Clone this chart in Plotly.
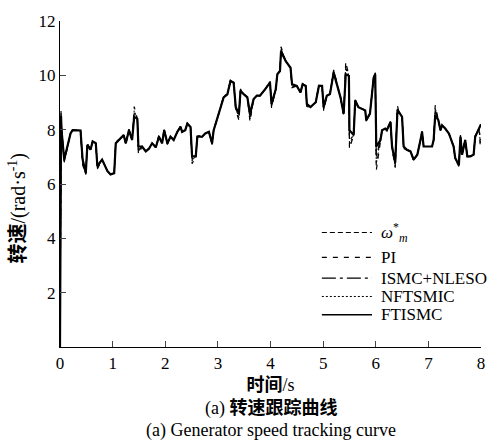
import plotly.graph_objects as go

# time axis (s)
t = [
    0.00, 0.01, 0.02, 0.03, 0.08, 0.20, 0.24, 0.39, 0.43, 0.49,
    0.52, 0.58, 0.62, 0.68, 0.71, 0.80, 0.90, 0.96, 1.03, 1.06,
    1.12, 1.21, 1.25, 1.31, 1.37, 1.41, 1.47, 1.49, 1.56, 1.63,
    1.69, 1.75, 1.82, 1.88, 1.94, 1.98, 2.04, 2.10, 2.16, 2.23,
    2.29, 2.32, 2.38, 2.42, 2.48, 2.51, 2.58, 2.61, 2.70, 2.76,
    2.83, 2.89, 2.92, 2.99, 3.05, 3.11, 3.18, 3.24, 3.30, 3.34,
    3.40, 3.43, 3.49, 3.56, 3.61, 3.68, 3.74, 3.80, 3.90, 3.99,
    4.02, 4.10, 4.13, 4.18, 4.20, 4.29, 4.38, 4.41, 4.50, 4.57,
    4.61, 4.67, 4.69, 4.76, 4.86, 4.92, 4.98, 5.01, 5.07, 5.13,
    5.20, 5.33, 5.39, 5.43, 5.49, 5.50, 5.58, 5.61, 5.67, 5.80,
    5.82, 5.89, 5.96, 5.99, 6.01, 6.09, 6.12, 6.18, 6.21, 6.28,
    6.31, 6.37, 6.41, 6.44, 6.50, 6.53, 6.59, 6.66, 6.72, 6.79,
    6.85, 6.88, 6.91, 6.98, 7.07, 7.10, 7.13, 7.19, 7.23, 7.26,
    7.32, 7.39, 7.48, 7.51, 7.58, 7.61, 7.64, 7.70, 7.74, 7.80,
    7.86, 7.89, 7.96, 7.99, 8.00,
]

# reference speed omega*_m
ref = [
    0.0, 6.0, 8.45, 7.97, 6.9, 7.86, 7.98, 7.97, 6.9, 6.41,
    7.44, 7.26, 7.57, 7.5, 6.67, 6.9, 6.48, 6.35, 6.4, 7.5,
    7.62, 7.8, 7.5, 7.98, 7.62, 8.47, 8.4, 7.38, 7.38, 7.2,
    7.3, 7.5, 7.35, 7.74, 7.5, 7.98, 7.5, 7.74, 7.62, 7.92,
    8.1, 7.92, 7.98, 8.22, 8.1, 7.02, 7.02, 7.74, 7.74, 7.86,
    7.92, 7.5, 7.98, 8.4, 8.83, 9.19, 9.3, 9.79, 9.73, 8.83,
    8.59, 9.43, 9.31, 9.19, 8.59, 9.13, 9.25, 9.25, 9.49, 9.73,
    8.95, 9.49, 10.04, 10.16, 10.88, 10.52, 10.28, 9.67, 9.61, 9.37,
    9.67, 9.61, 8.95, 8.83, 9.01, 9.61, 9.61, 8.83, 9.25, 9.31,
    10.1, 9.19, 8.59, 10.04, 9.98, 7.98, 7.8, 9.07, 8.83, 8.71,
    8.35, 8.59, 9.91, 10.04, 7.38, 7.62, 7.98, 8.04, 7.98, 8.28,
    7.38, 6.78, 8.59, 8.65, 8.47, 7.38, 7.26, 7.2, 6.9, 7.08,
    7.62, 7.92, 7.38, 7.38, 7.38, 7.62, 8.53, 8.35, 7.98, 8.16,
    8.04, 7.86, 7.38, 6.96, 6.71, 7.74, 7.08, 7.62, 7.02, 7.02,
    7.08, 7.74, 8.04, 8.16, 8.2,
]

pi_ctrl = [
    0.0, 5.5, 8.7, 8.1, 6.8, 7.86, 8.0, 7.97, 6.7, 6.35,
    7.5, 7.26, 7.57, 7.5, 6.55, 6.9, 6.48, 6.35, 6.4, 7.6,
    7.62, 7.8, 7.45, 8.02, 7.62, 8.85, 8.4, 7.1, 7.38, 7.2,
    7.3, 7.5, 7.35, 7.8, 7.5, 8.05, 7.45, 7.74, 7.62, 7.92,
    8.15, 7.92, 7.98, 8.25, 8.1, 6.75, 7.02, 7.8, 7.74, 7.86,
    7.92, 7.45, 8.0, 8.4, 8.83, 9.25, 9.3, 9.85, 9.73, 8.7,
    8.35, 9.5, 9.31, 9.19, 8.3, 9.13, 9.25, 9.25, 9.49, 9.8,
    8.8, 9.49, 10.04, 10.16, 11.05, 10.52, 10.28, 9.55, 9.61, 9.37,
    9.7, 9.61, 8.85, 8.83, 9.01, 9.65, 9.61, 8.7, 9.25, 9.31,
    10.2, 9.19, 8.5, 10.5, 9.98, 7.3, 7.8, 9.1, 8.83, 8.71,
    8.3, 8.59, 9.95, 10.1, 6.5, 7.62, 7.98, 8.04, 7.98, 8.3,
    7.3, 6.6, 8.9, 8.65, 8.47, 7.3, 7.26, 7.2, 6.85, 7.08,
    7.62, 7.95, 7.38, 7.38, 7.38, 7.62, 8.9, 8.35, 7.95, 8.16,
    8.04, 7.86, 7.38, 6.9, 6.65, 7.8, 7.08, 7.62, 7.0, 7.02,
    7.08, 7.78, 8.04, 7.3, 7.25,
]

ismc_nleso = [
    0.0, 5.8, 8.55, 8.0, 6.85, 7.86, 7.98, 7.97, 6.8, 6.38,
    7.47, 7.26, 7.57, 7.5, 6.6, 6.9, 6.48, 6.35, 6.4, 7.55,
    7.62, 7.8, 7.48, 8.0, 7.62, 8.6, 8.4, 7.25, 7.38, 7.2,
    7.3, 7.5, 7.35, 7.76, 7.5, 8.0, 7.48, 7.74, 7.62, 7.92,
    8.12, 7.92, 7.98, 8.23, 8.1, 6.9, 7.02, 7.76, 7.74, 7.86,
    7.92, 7.48, 7.98, 8.4, 8.83, 9.21, 9.3, 9.82, 9.73, 8.78,
    8.5, 9.46, 9.31, 9.19, 8.45, 9.13, 9.25, 9.25, 9.49, 9.76,
    8.88, 9.49, 10.04, 10.16, 10.95, 10.52, 10.28, 9.6, 9.61, 9.37,
    9.68, 9.61, 8.9, 8.83, 9.01, 9.63, 9.61, 8.78, 9.25, 9.31,
    10.15, 9.19, 8.55, 10.25, 9.98, 7.6, 7.8, 9.08, 8.83, 8.71,
    8.33, 8.59, 9.93, 10.07, 6.95, 7.62, 7.98, 8.04, 7.98, 8.29,
    7.34, 6.7, 8.75, 8.65, 8.47, 7.34, 7.26, 7.2, 6.88, 7.08,
    7.62, 7.93, 7.38, 7.38, 7.38, 7.62, 8.7, 8.35, 7.97, 8.16,
    8.04, 7.86, 7.38, 6.93, 6.68, 7.76, 7.08, 7.62, 7.01, 7.02,
    7.08, 7.76, 8.04, 7.7, 7.6,
]

nftsmic = [
    0.0, 5.6, 8.6, 8.05, 6.85, 7.86, 7.99, 7.97, 6.75, 6.37,
    7.48, 7.26, 7.57, 7.5, 6.58, 6.9, 6.48, 6.35, 6.4, 7.58,
    7.62, 7.8, 7.47, 8.01, 7.62, 8.7, 8.4, 7.2, 7.38, 7.2,
    7.3, 7.5, 7.35, 7.78, 7.5, 8.02, 7.47, 7.74, 7.62, 7.92,
    8.13, 7.92, 7.98, 8.24, 8.1, 6.85, 7.02, 7.78, 7.74, 7.86,
    7.92, 7.47, 7.99, 8.4, 8.83, 9.22, 9.3, 9.83, 9.73, 8.75,
    8.45, 9.47, 9.31, 9.19, 8.4, 9.13, 9.25, 9.25, 9.49, 9.78,
    8.85, 9.49, 10.04, 10.16, 10.98, 10.52, 10.28, 9.58, 9.61, 9.37,
    9.69, 9.61, 8.88, 8.83, 9.01, 9.64, 9.61, 8.75, 9.25, 9.31,
    10.17, 9.19, 8.53, 10.35, 9.98, 7.45, 7.8, 9.09, 8.83, 8.71,
    8.32, 8.59, 9.94, 10.08, 6.75, 7.62, 7.98, 8.04, 7.98, 8.29,
    7.32, 6.65, 8.8, 8.65, 8.47, 7.32, 7.26, 7.2, 6.87, 7.08,
    7.62, 7.94, 7.38, 7.38, 7.38, 7.62, 8.8, 8.35, 7.96, 8.16,
    8.04, 7.86, 7.38, 6.92, 6.67, 7.78, 7.08, 7.62, 7.0, 7.02,
    7.08, 7.77, 8.04, 7.5, 7.45,
]

ftismc = [
    0.0, 5.9, 8.5, 7.97, 6.9, 7.86, 7.98, 7.97, 6.9, 6.41,
    7.44, 7.26, 7.57, 7.5, 6.67, 6.9, 6.48, 6.35, 6.4, 7.5,
    7.62, 7.8, 7.5, 7.98, 7.62, 8.47, 8.4, 7.38, 7.38, 7.2,
    7.3, 7.5, 7.35, 7.74, 7.5, 7.98, 7.5, 7.74, 7.62, 7.92,
    8.1, 7.92, 7.98, 8.22, 8.1, 7.02, 7.02, 7.74, 7.74, 7.86,
    7.92, 7.5, 7.98, 8.4, 8.83, 9.19, 9.3, 9.79, 9.73, 8.83,
    8.59, 9.43, 9.31, 9.19, 8.59, 9.13, 9.25, 9.25, 9.49, 9.73,
    8.95, 9.49, 10.04, 10.16, 10.88, 10.52, 10.28, 9.67, 9.61, 9.37,
    9.67, 9.61, 8.95, 8.83, 9.01, 9.61, 9.61, 8.83, 9.25, 9.31,
    10.1, 9.19, 8.59, 10.04, 9.98, 7.98, 7.8, 9.07, 8.83, 8.71,
    8.35, 8.59, 9.91, 10.04, 7.38, 7.62, 7.98, 8.04, 7.98, 8.28,
    7.38, 6.78, 8.59, 8.65, 8.47, 7.38, 7.26, 7.2, 6.9, 7.08,
    7.62, 7.92, 7.38, 7.38, 7.38, 7.62, 8.53, 8.35, 7.98, 8.16,
    8.04, 7.86, 7.38, 6.96, 6.71, 7.74, 7.08, 7.62, 7.02, 7.02,
    7.08, 7.74, 8.04, 8.16, 8.2,
]

names = ["<i>ω</i><sup>*</sup><sub><i>m</i></sub>", "PI", "ISMC+NLESO", "NFTSMIC", "FTISMC"]
series = [ref, pi_ctrl, ismc_nleso, nftsmic, ftismc]
dashes = ["5px,3px", "5px,6px", "14px,4px,3px,4px", "2px,2px", "solid"]
widths = [1.2, 1.2, 1.2, 1.0, 2.2]
legend_widths = [1.1, 1.1, 1.3, 1.0, 1.3]

x_ticks = [0, 1, 2, 3, 4, 5, 6, 7, 8]
y_ticks = [2, 4, 6, 8, 10, 12]

SERIF = "Liberation Serif, Noto Sans CJK SC, serif"

fig = go.Figure()
for name, ys, d, w in zip(names, series, dashes, widths):
    fig.add_trace(go.Scatter(x=t, y=ys, mode="lines", name=name, showlegend=False,
                             line=dict(color="black", dash=d, width=w)))

# hand-drawn legend (key lines + labels), placed in paper coordinates
leg_x0, leg_x1, leg_tx = 0.622, 0.741, 0.757
leg_rows = [0.351, 0.275, 0.211, 0.155, 0.099]
for name, d, lw, ry in zip(names, dashes, legend_widths, leg_rows):
    fig.add_shape(type="line", xref="paper", yref="paper",
                  x0=leg_x0, x1=leg_x1, y0=ry, y1=ry,
                  line=dict(color="black", dash=d, width=lw))
    fig.add_annotation(text=name, xref="paper", yref="paper", x=leg_tx, y=ry,
                       xanchor="left", yanchor="middle", showarrow=False,
                       font=dict(size=17, family=SERIF))

fig.update_layout(
    width=497, height=448,
    margin=dict(l=60, r=16, t=16, b=101),
    paper_bgcolor="white", plot_bgcolor="white",
    font=dict(family=SERIF, size=17, color="black"),
    showlegend=False,
    xaxis=dict(range=[0, 8], tickvals=x_ticks, ticks="inside", ticklen=6,
               showline=True, linecolor="black", linewidth=1.2, mirror=False,
               showgrid=False, zeroline=False, tickfont=dict(size=17, family=SERIF),
               title=dict(text="<b>时间</b>/s", font=dict(size=18, family=SERIF), standoff=6)),
    yaxis=dict(range=[0, 12], tickvals=y_ticks, ticks="inside", ticklen=6,
               showline=True, linecolor="black", linewidth=1.2, mirror=False,
               showgrid=False, zeroline=False, tickfont=dict(size=17, family=SERIF)),
)

# y-axis title (placed as rotated annotation to match the reference's offset)
fig.add_annotation(text="<b>转速</b>/(rad·s<sup>-1</sup>)", xref="paper", yref="paper",
                   x=-0.102, y=0.425, xanchor="center", yanchor="middle", showarrow=False,
                   textangle=-90, font=dict(size=20, family=SERIF))

fig.add_annotation(text="(a) <b>转速跟踪曲线</b>", xref="paper", yref="paper",
                   x=0.5, y=-0.148, xanchor="center", yanchor="top", showarrow=False,
                   font=dict(size=18, family=SERIF))
fig.add_annotation(text="(a) Generator speed tracking curve", xref="paper", yref="paper",
                   x=0.5, y=-0.218, xanchor="center", yanchor="top", showarrow=False,
                   font=dict(size=18, family=SERIF))

fig.write_html("out.html")
